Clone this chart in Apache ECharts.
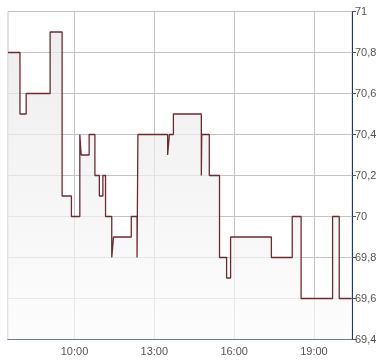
<!DOCTYPE html>
<html><head><meta charset="utf-8">
<script src="https://cdn.jsdelivr.net/npm/echarts@6/dist/echarts.min.js"></script>
<style>html,body{margin:0;padding:0;background:#fff}#c{width:390px;height:364px}</style>
</head><body><div id="c"></div>
<script>
// Change times (HH:MM) and the new price from each time on
const times = ["07:30","07:57","08:11","09:05","09:32","09:53","10:12","10:15","10:33","10:46","10:56","11:04","11:10","11:24","11:28","12:08","12:21","12:23","13:30","13:34","13:43","14:46","14:47","15:04","15:27","15:43","15:52","17:24","18:11","18:31","19:42","19:57","20:25"];
const prices = [70.8,70.5,70.6,70.9,70.1,70.0,70.4,70.3,70.4,70.2,70.1,70.2,70.0,69.8,69.9,70.0,69.8,70.4,70.3,70.4,70.5,70.2,70.4,70.2,69.8,69.7,69.9,69.8,70.0,69.6,70.0,69.6,69.6];
const xTickLabels = ["10:00","13:00","16:00","19:00"];
const yTicks = [69.4,69.6,69.8,70,70.2,70.4,70.6,70.8,71];

const toH = s => { const [h,m] = s.split(':').map(Number); return h + m/60; };
const data = times.map((t,i) => [toH(t), prices[i]]);
const xTickVals = xTickLabels.map(toH);

const chart = echarts.init(document.getElementById('c'));
chart.setOption({
  animation: false,
  grid: {left: 8, right: 38, top: 11.5, bottom: 24.5, show: true, borderColor: '#c3c3c3', borderWidth: 1},
  xAxis: {
    type: 'value', min: 7.5, max: 20.43,
    axisLine: {show: true, onZero: false, lineStyle: {color: '#1c3766', width: 1}},
    axisTick: {show: false, customValues: xTickVals},
    axisLabel: {customValues: xTickVals, color: '#555', fontFamily: 'Liberation Sans', fontSize: 11, margin: 7,
      formatter: v => { const h = Math.floor(v + 1e-6); const m = Math.round((v - h) * 60); return h + ':' + String(m).padStart(2,'0'); }},
    splitLine: {show: true, lineStyle: {color: '#c3c3c3', width: 1}}
  },
  yAxis: {
    type: 'value', position: 'right', min: 69.4, max: 71, interval: 0.2,
    axisLine: {show: true, lineStyle: {color: '#1c3766', width: 1}},
    axisTick: {show: true, length: 4, lineStyle: {color: '#555'}},
    axisLabel: {color: '#555', fontFamily: 'Liberation Sans', fontSize: 11, margin: 3,
      formatter: v => String(Math.round(v*10)/10).replace('.', ',')},
    splitLine: {show: true, lineStyle: {color: '#c3c3c3', width: 1}}
  },
  series: [{
    type: 'line', step: 'end', data: data, symbol: 'none',
    lineStyle: {color: '#6e2a31', width: 1.3},
    areaStyle: {origin: 'start', color: new echarts.graphic.LinearGradient(0,0,0,1,[{offset:0,color:'#e6e6e6'},{offset:1,color:'#fbfbfb'}])}
  }]
});
</script></body></html>
